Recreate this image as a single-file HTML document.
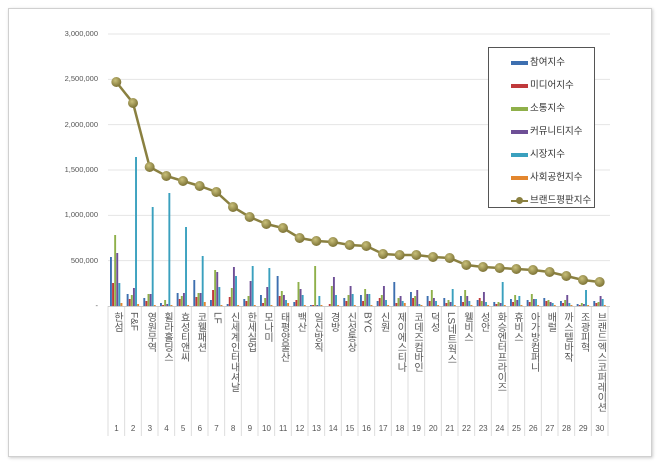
<!DOCTYPE html>
<html><head><meta charset="utf-8"><style>
body{margin:0;background:#fff;width:660px;height:465px;overflow:hidden;font-family:"Liberation Sans","Noto Sans CJK KR",sans-serif}
#frame{position:absolute;left:8px;top:8px;width:642px;height:447px;border:1px solid #d0d0d0;box-shadow:1px 1px 3px #ccc;background:#fff}
.yl{position:absolute;right:562px;font-size:7.5px;color:#555;text-align:right}
.xl{position:absolute;top:312px;width:16px;font-size:10px;color:#555;writing-mode:vertical-rl;text-orientation:mixed;line-height:16px;letter-spacing:0px}
.xn{position:absolute;top:424px;width:17px;text-align:center;font-size:8px;color:#555}
#legend{position:absolute;left:488px;top:47px;width:105px;height:159px;border:1px solid #555;background:#fff;font-size:9.5px;color:#333}
#legend div{position:absolute;left:22px;height:12px;line-height:12px;padding-left:19px}
#legend span{position:absolute;left:0;top:4px;width:17px;height:4px}
</style></head><body>
<div id="frame"></div>
<svg id="s" width="660" height="465" style="position:absolute;left:0;top:0"></svg>
<div id="labels"></div>
<div id="legend">
<div style="top:9px"><span style="background:#3d6fb0"></span>참여지수</div>
<div style="top:32px"><span style="background:#c0393b"></span>미디어지수</div>
<div style="top:55px"><span style="background:#8fb04a"></span>소통지수</div>
<div style="top:78px"><span style="background:#6e4f96"></span>커뮤니티지수</div>
<div style="top:101px"><span style="background:#3aa0be"></span>시장지수</div>
<div style="top:124px"><span style="background:#e3862e"></span>사회공헌지수</div>
<div style="top:147px"><span style="background:#8a8040;height:2px;top:5px"></span><b style="position:absolute;left:5px;top:2px;width:7px;height:7px;border-radius:50%;background:#8a8040"></b>브랜드평판지수</div>
</div>
<script>
var s=document.getElementById('s'),L=document.getElementById('labels');
var base=306,top0=34,h='';
var ylab=['-','500,000','1,000,000','1,500,000','2,000,000','2,500,000','3,000,000'];
for(var i=0;i<7;i++){var y=base-i*(base-top0)/6;
 if(i>0)h+='<line x1="108" x2="610" y1="'+y+'" y2="'+y+'" stroke="#e4e4e4" stroke-width="1"/>';
 L.innerHTML+='<div class="yl" style="top:'+(y-5)+'px">'+ylab[i]+'</div>';}
var names=['한섬','F&F','영원무역','휠라홀딩스','효성티앤씨','코웰패션','LF','신세계인터내셔날','한세실업','모나미','태평양물산','백산','일신방직','경방','신성통상','BYC','신원','제이에스티나','코데즈컴바인','덕성','LS네트웍스','웰비스','성안','화승엔터프라이즈','휴비스','아가방컴퍼니','배럴','까스텔바작','조광피혁','브랜드엑스코퍼레이션'];
var bars=[[49,23,71,53,23,3],[12,7,11,18,149,2],[8,5,12,12,99,1],[3,1,6,2,113,1],[13,7,10,13,79,1],[26,9,13,13,50,4],[6,16,36,34,19,1],[2,9,18,39,30,1],[7,5,10,25,40,1],[11,3,8,19,38,1],[30,10,15,11,6,3],[4,6,24,17,11,1],[1,1,40,1,10,1],[0,2,20,29,11,1],[8,5,11,20,12,1],[11,5,17,12,12,1],[5,8,11,20,6,1],[24,3,8,10,5,3],[14,8,10,16,2,1],[10,5,16,8,5,1],[8,3,6,4,17,1],[10,4,16,10,5,1],[6,8,5,14,4,1],[4,2,4,3,24,1],[7,4,11,6,10,1],[6,4,12,7,7,1],[8,5,6,4,3,1],[5,3,6,11,3,1],[2,1,3,2,16,1],[5,3,4,10,7,1]];
var cols=['#3d6fb0','#c0393b','#8fb04a','#6e4f96','#3aa0be','#e3862e'];
var ly=[82,103,167,176,181,186,192,207,217,224,228,238,241,242,245,246,254,255,255,257,258,265,267,268,269,270,272,276,280,282];
var cw=500/30,pts=[];
for(var c=0;c<30;c++){var x0=108+c*cw,cx=x0+cw/2;
 for(var k=0;k<6;k++){var b=bars[c][k];if(b>0)h+='<rect x="'+(x0+2+k*2.1)+'" y="'+(base-b)+'" width="1.9" height="'+b+'" fill="'+cols[k]+'"/>';}
 h+='<line x1="'+(x0+cw)+'" x2="'+(x0+cw)+'" y1="306" y2="436" stroke="#ddd" stroke-width="1"/>';
 pts.push(cx+','+ly[c]);
 L.innerHTML+='<div class="xl" style="left:'+(x0+0.5)+'px">'+names[c]+'</div><div class="xn" style="left:'+(x0)+'px">'+(c+1)+'</div>';}
h+='<line x1="108" x2="108" y1="306" y2="436" stroke="#ddd"/>';
h+='<line x1="108" x2="610" y1="306.5" y2="306.5" stroke="#ccc"/>';
h+='<polyline points="'+pts.join(' ')+'" fill="none" stroke="#8a8040" stroke-width="2.5"/>';
h+='<defs><radialGradient id="g" cx="40%" cy="35%" r="65%"><stop offset="0" stop-color="#c9c07a"/><stop offset="1" stop-color="#7d7336"/></radialGradient></defs>';
for(var c=0;c<30;c++){var p=pts[c].split(',');h+='<circle cx="'+p[0]+'" cy="'+p[1]+'" r="5" fill="url(#g)"/>';}
s.innerHTML=h;
</script>
</body></html>
